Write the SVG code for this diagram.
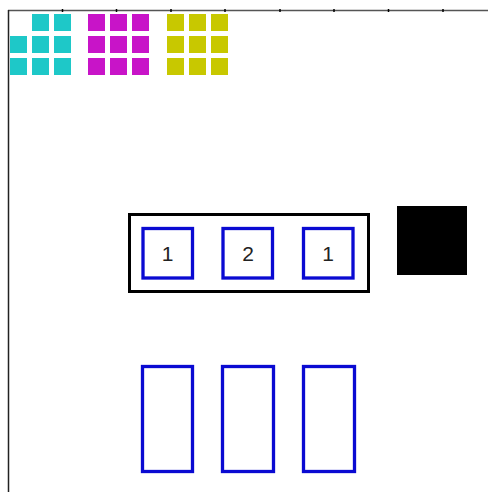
<svg xmlns="http://www.w3.org/2000/svg" width="488" height="492" viewBox="0 0 488 492">
<style>
.c{fill:#1ec8c8}.m{fill:#c814c8}.y{fill:#c8c800}
.b{fill:#fff;stroke:#0a0ad2;stroke-width:3.3}
.t{font-family:"Liberation Sans",Arial,sans-serif;font-size:21px;fill:#222;text-anchor:middle}
.tick{stroke:#000;stroke-width:1.5}
</style>
<rect width="488" height="492" fill="#fff"/>
<g id="axes">
<line x1="8" y1="10.5" x2="488" y2="10.5" stroke="#555" stroke-width="1.5"/>
<line x1="8.5" y1="10" x2="8.5" y2="492" stroke="#222" stroke-width="1.5"/>
<g class="tick">
<line x1="62.5" y1="9" x2="62.5" y2="12"/><line x1="116.5" y1="9" x2="116.5" y2="12"/>
<line x1="171" y1="9" x2="171" y2="12"/><line x1="225" y1="9" x2="225" y2="12"/>
<line x1="280" y1="9" x2="280" y2="12"/><line x1="334" y1="9" x2="334" y2="12"/>
<line x1="388.5" y1="9" x2="388.5" y2="12"/><line x1="443" y1="9" x2="443" y2="12"/>
</g>
</g>
<g id="cyan">
<rect class="c" x="32" y="14" width="17" height="17"/><rect class="c" x="54" y="14" width="17" height="17"/>
<rect class="c" x="10" y="36" width="17" height="17"/><rect class="c" x="32" y="36" width="17" height="17"/><rect class="c" x="54" y="36" width="17" height="17"/>
<rect class="c" x="10" y="58" width="17" height="17"/><rect class="c" x="32" y="58" width="17" height="17"/><rect class="c" x="54" y="58" width="17" height="17"/>
</g>
<g id="magenta">
<rect class="m" x="88" y="14" width="17" height="17"/><rect class="m" x="110" y="14" width="17" height="17"/><rect class="m" x="132" y="14" width="17" height="17"/>
<rect class="m" x="88" y="36" width="17" height="17"/><rect class="m" x="110" y="36" width="17" height="17"/><rect class="m" x="132" y="36" width="17" height="17"/>
<rect class="m" x="88" y="58" width="17" height="17"/><rect class="m" x="110" y="58" width="17" height="17"/><rect class="m" x="132" y="58" width="17" height="17"/>
</g>
<g id="yellow">
<rect class="y" x="167" y="14" width="17" height="17"/><rect class="y" x="189" y="14" width="17" height="17"/><rect class="y" x="211" y="14" width="17" height="17"/>
<rect class="y" x="167" y="36" width="17" height="17"/><rect class="y" x="189" y="36" width="17" height="17"/><rect class="y" x="211" y="36" width="17" height="17"/>
<rect class="y" x="167" y="58" width="17" height="17"/><rect class="y" x="189" y="58" width="17" height="17"/><rect class="y" x="211" y="58" width="17" height="17"/>
</g>
<g id="container">
<rect x="129.5" y="214.5" width="239" height="77" fill="#fff" stroke="#000" stroke-width="3"/>
</g>
<g id="box1"><rect class="b" x="143" y="228.5" width="49.5" height="49.5"/><text class="t" x="167.5" y="260.5">1</text></g>
<g id="box2"><rect class="b" x="223" y="228.5" width="49.5" height="49.5"/><text class="t" x="248" y="260.5">2</text></g>
<g id="box3"><rect class="b" x="303.5" y="228.5" width="49.5" height="49.5"/><text class="t" x="328" y="260.5">1</text></g>
<g id="blacksq"><rect x="397" y="206" width="70" height="69" fill="#000"/></g>
<g id="slot1"><rect class="b" x="142.5" y="366.5" width="50" height="105"/></g>
<g id="slot2"><rect class="b" x="222.5" y="366.5" width="51" height="105"/></g>
<g id="slot3"><rect class="b" x="303.5" y="366.5" width="51" height="105"/></g>
<g id="connectors"></g>
</svg>
